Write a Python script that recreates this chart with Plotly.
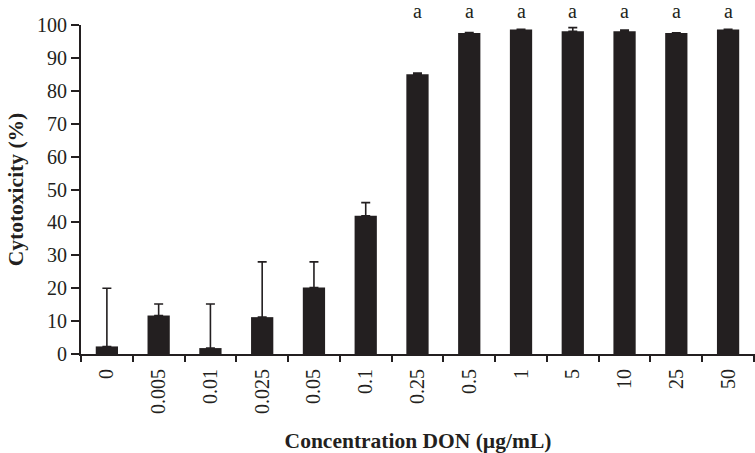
import plotly.graph_objects as go

categories = ["0", "0.005", "0.01", "0.025", "0.05", "0.1", "0.25", "0.5", "1", "5", "10", "25", "50"]
cytotoxicity = [2.3, 11.7, 1.8, 11.2, 20.2, 42.0, 85.0, 97.6, 98.6, 98.1, 98.1, 97.6, 98.6]
error_up = [17.7, 3.5, 13.4, 16.8, 7.8, 4.0, 0.4, 0.1, 0.1, 1.1, 0.4, 0.0, 0.1]
significance = ["", "", "", "", "", "", "a", "a", "a", "a", "a", "a", "a"]
label_y = 104.3
y_max = 100

dark = "#231f20"
font_family = "Liberation Serif"

fig = go.Figure()
fig.add_trace(go.Bar(
    x=categories,
    y=cytotoxicity,
    width=0.43,
    marker=dict(color=dark, line=dict(width=0)),
    error_y=dict(type="data", symmetric=False, array=error_up,
                 arrayminus=[0] * len(error_up),
                 color=dark, thickness=1.6, width=4.5),
))

for i, s in enumerate(significance):
    if s:
        fig.add_annotation(x=i, y=label_y / y_max, xref="x", yref="paper", text=s,
                           showarrow=False, yanchor="middle",
                           font=dict(family=font_family, size=20, color=dark))

fig.update_layout(
    width=755, height=453,
    margin=dict(l=81, r=0, t=25, b=99),
    plot_bgcolor="white", paper_bgcolor="white",
    showlegend=False,
    font=dict(family=font_family, color=dark, size=20),
    xaxis=dict(
        type="category",
        range=[-0.5, 12.52],
        automargin=False,
        showline=True, linecolor=dark, linewidth=2,
        ticks="outside", tickson="boundaries", ticklen=6, tickwidth=2, tickcolor=dark,
        tickangle=-90, ticklabelstandoff=5,
        tickfont=dict(family=font_family, size=20, color=dark),
        showgrid=False, zeroline=False,
        title=dict(text="<b>Concentration DON (µg/mL)</b>", standoff=20,
                   font=dict(family=font_family, size=21.5, color=dark)),
    ),
    yaxis=dict(
        range=[0, y_max],
        automargin=False,
        tickmode="array",
        tickvals=list(range(0, 101, 10)),
        showline=True, linecolor=dark, linewidth=2,
        ticks="outside", ticklen=8, tickwidth=2, tickcolor=dark,
        tickfont=dict(family=font_family, size=20, color=dark),
        showgrid=False, zeroline=False,
        title=dict(text="<b>Cytotoxicity (%)</b>", standoff=7,
                   font=dict(family=font_family, size=21.5, color=dark)),
    ),
)

fig.write_html("out.html", config={"displayModeBar": False},
               post_script="document.body.style.margin='0';")
